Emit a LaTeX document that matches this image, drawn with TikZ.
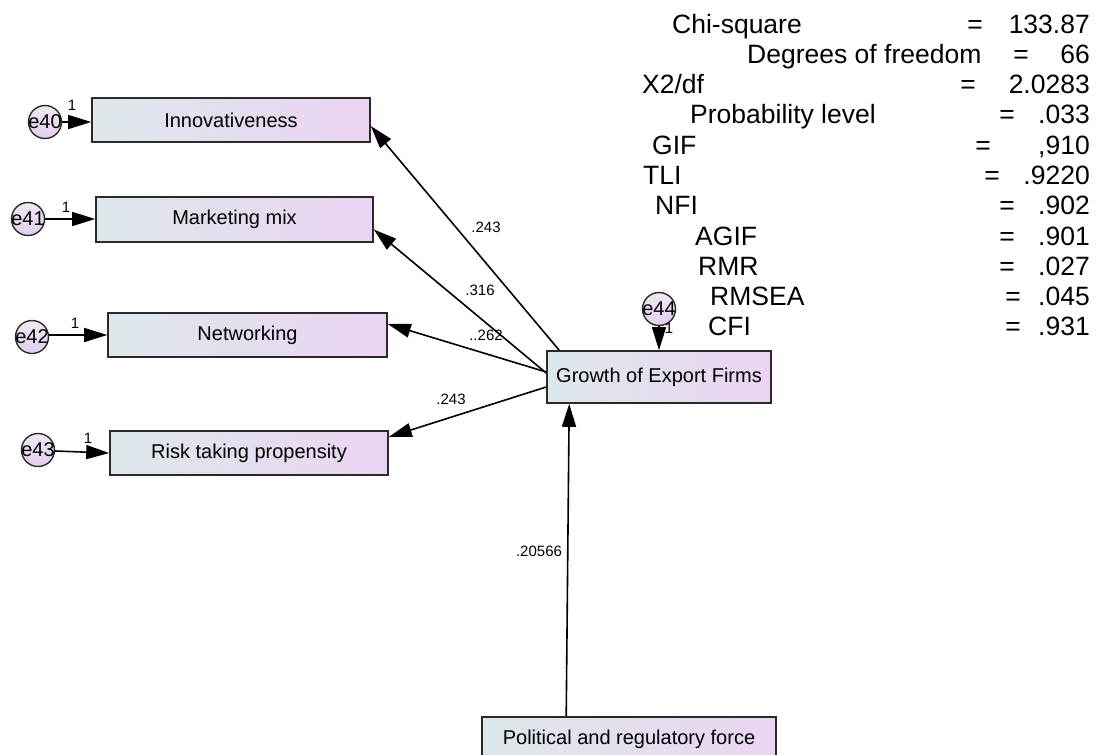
\documentclass[tikz,border=0pt]{standalone}
\usepackage{fontspec}
\setmainfont{Liberation Sans}
\usetikzlibrary{arrows.meta,calc}
\definecolor{boxL}{HTML}{DEE8EA}
\definecolor{boxR}{HTML}{EBD4F3}
\definecolor{errT}{HTML}{EEEAF2}
\definecolor{errB}{HTML}{E2CDEE}
\definecolor{edge}{HTML}{2A2A2A}
\begin{document}
\begin{tikzpicture}[x=1pt,y=-1pt,
  obs/.style={draw=edge, line width=1.6pt, left color=boxL, right color=boxR,
    font=\fontsize{20}{24}\selectfont, inner sep=0pt},
  err/.style={circle, draw=edge, line width=1.4pt, top color=errT, bottom color=errB,
    minimum size=33pt, inner sep=0pt},
  etext/.style={font=\fontsize{20}{24}\selectfont, inner sep=0pt},
  reg/.style={line width=1.6pt, -{Triangle[length=23pt,width=14pt]}},
  coef/.style={font=\fontsize{15}{18}\selectfont, inner sep=0pt},
  one/.style={font=\fontsize{15}{18}\selectfont, inner sep=0pt},
  stat/.style={font=\fontsize{26.5}{30}\selectfont, inner sep=0pt}
]
\clip (0,0) rectangle (1098,755);
\fill[white] (0,0) rectangle (1098,755);

% observed variables
\node[obs, minimum width=278pt, minimum height=44pt] (innov) at (231,120) {Innovativeness};
\node[obs, minimum width=277pt, minimum height=45pt] (mkt) at (234.5,219.5) {Marketing mix};
\node[obs, minimum width=279pt, minimum height=44pt] (net) at (247.5,335) {Networking};
\node[obs, minimum width=278pt, minimum height=44pt] (risk) at (249,453) {Risk taking propensity};
\node[obs, minimum width=224pt, minimum height=52pt] (grow) at (659,377) {Growth of Export Firms};
\node[obs, minimum width=294pt, minimum height=44pt] (pol) at (629,739) {Political and regulatory force};

% error terms
\node[err] (e40) at (45,122) {};
\node[etext] (e40t) at (e40) {e40};
\node[err] (e41) at (28,219) {};
\node[etext] (e41t) at (e41) {e41};
\node[err] (e42) at (32,337) {};
\node[etext] (e42t) at (e42) {e42};
\node[err] (e43) at (38,450) {};
\node[etext] (e43t) at (e43) {e43};
\node[err] (e44) at (659,309) {};
\node[etext] (e44t) at (e44) {e44};

% fixed loadings of the error terms
\node[one] (o40) at (72,105) {1};
\node[one] (o41) at (66,207) {1};
\node[one] (o42) at (75,323) {1};
\node[one] (o43) at (88,438) {1};
\node[one] (o44) at (669,328) {1};

\draw[reg] (e40.east) -- (innov.west |- e40.east);
\draw[reg] (e41.east) -- (mkt.west |- e41.east);
\draw[reg] ($(e42.east)+(0,-2)$) -- ($(net.west)+(0,0)$);
\draw[reg] ($(e43.east)+(0,1)$) -- ($(risk.west)+(0,0)$);
\draw[reg] (e44.south) -- (grow.north -| e44.south);

% structural paths
\draw[reg] ($(grow.north west)+(13,0)$) -- ($(innov.east)+(0,6)$);
\draw[reg] ($(grow.west)+(0,-4)$) -- ($(mkt.east)+(0,10)$);
\draw[reg] ($(grow.west)+(0,-5)$) -- ($(net.east)+(0,-11)$);
\draw[reg] ($(grow.west)+(0,10)$) -- ($(risk.east)+(0,-16)$);
\draw[reg] ($(pol.north west)+(85,0)$) -- ($(grow.south west)+(23,0)$);

% path coefficients
\node[coef] (c1) at (486,227) {.243};
\node[coef] (c2) at (480,290) {.316};
\node[coef] (c3) at (486,335) {..262};
\node[coef] (c4) at (451,399) {.243};
\node[coef] (c5) at (539,551) {.20566};

% model fit summary
\foreach \lab/\lx/\eqx/\val/\cy [count=\i] in {
  Chi-square/672/975/133.87/24,
  Degrees of freedom/747/1021/66/54,
  X2\slash df/642/968/2.0283/84,
  Probability level/690/1007/.033/114,
  GIF/652/983/{,910}/145,
  TLI/643/992/.9220/175,
  NFI/655/1007/.902/205,
  AGIF/695/1007/.901/236,
  RMR/698/1007/.027/266,
  RMSEA/710/1013/.045/296,
  CFI/708/1013/.931/326}{
  \node[stat, anchor=base west] (s\i) at (\lx,\cy+9.5) {\lab};
  \node[stat, anchor=base] (q\i) at (\eqx,\cy+9.5) {=};
  \node[stat, anchor=base east] (v\i) at (1090,\cy+9.5) {\val};
}
\end{tikzpicture}
\end{document}
